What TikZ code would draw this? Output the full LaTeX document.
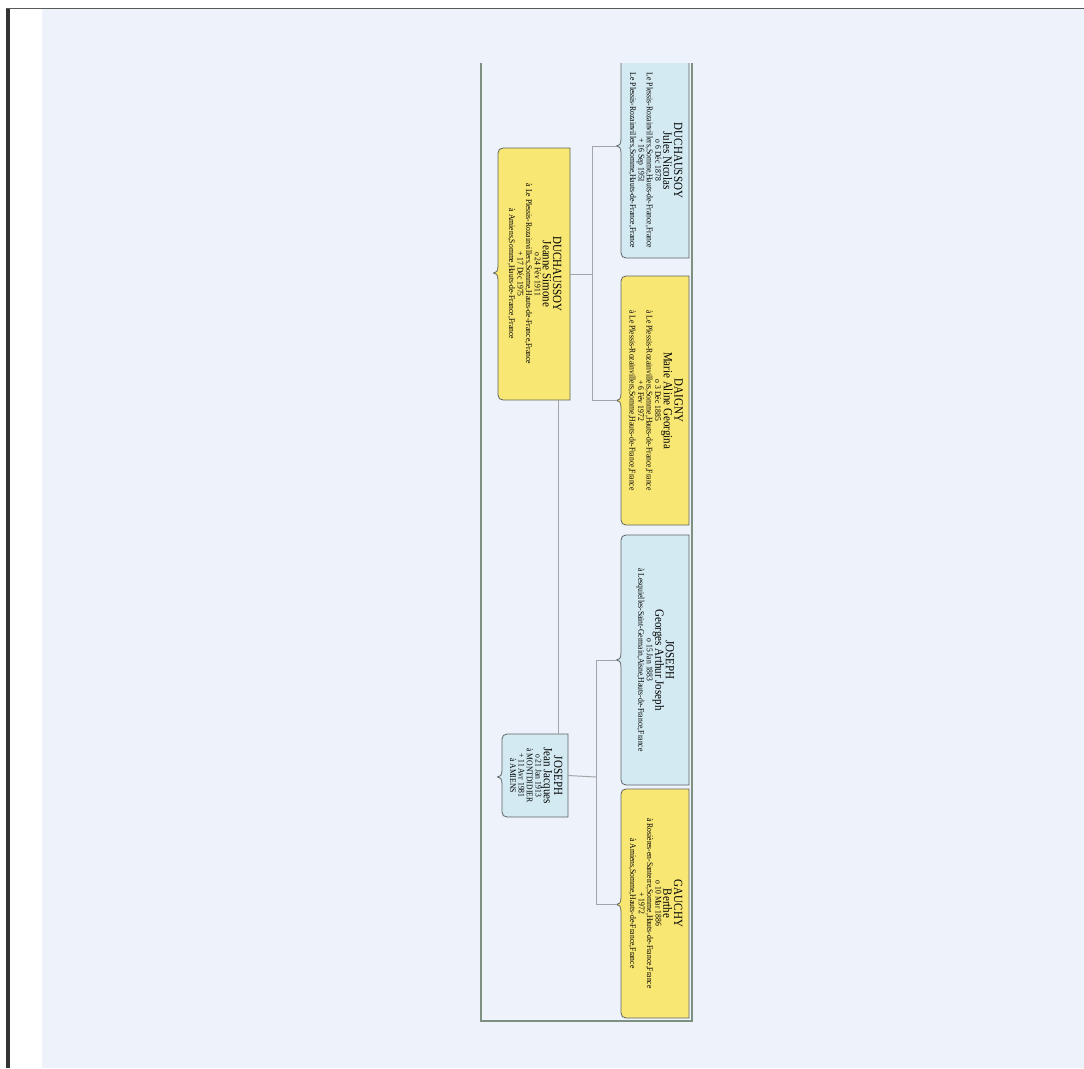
\documentclass[tikz,border=0pt]{standalone}
\usepackage{fontspec}
\setmainfont{Liberation Serif}[FakeStretch=0.88]
\usetikzlibrary{calc,backgrounds}
\definecolor{pagebg}{HTML}{EEF3FB}
\definecolor{bluefill}{HTML}{D3EAF2}
\definecolor{yellowfill}{HTML}{F9E774}
\definecolor{boxedge}{HTML}{5E6463}
\definecolor{linkgrey}{HTML}{A3A6A8}
\definecolor{framegreen}{HTML}{7D9082}
\newcommand\namefont{\fontsize{12.5}{12.5}\selectfont}
\newcommand\detfont{\fontsize{8.7}{8.7}\selectfont}
\newcommand\NM[1]{\namefont\rule[-2pt]{0pt}{8.5pt}#1}
\newcommand\DT[1]{\detfont\rule[-2.5pt]{0pt}{7.5pt}#1}
\newcommand\ptxt[1]{\rotatebox{-90}{\renewcommand\arraystretch{0}\begin{tabular}{@{}c@{}}#1\end{tabular}}}
\tikzset{
  pnode/.style={inner sep=0pt, outer sep=0pt, draw=none},
  boxline/.style={draw=boxedge, line width=0.8pt},
  link/.style={draw=linkgrey, line width=1pt},
  frameline/.style={draw=framegreen, line width=1.4pt},
}
\newcommand\pbox[3]{%
\begin{pgfonlayer}{background}
\path[boxline,fill=#2] (#1.north east) -- ($(#1.north west)+(5,0)$) .. controls ($(#1.north west)+(2,0)$) and ($(#1.north west)+(0,2)$) .. ($(#1.north west)+(0,5)$)
 -- ($(#1.west)+(0,#3-7)$) .. controls ($(#1.west)+(0,#3-1.5)$) and ($(#1.west)+(-2,#3)$) .. ($(#1.west)+(-4.5,#3)$)
 .. controls ($(#1.west)+(-2,#3)$) and ($(#1.west)+(0,#3+1.5)$) .. ($(#1.west)+(0,#3+7)$)
 -- ($(#1.south west)+(0,-5)$) .. controls ($(#1.south west)+(0,-2)$) and ($(#1.south west)+(2,0)$) .. ($(#1.south west)+(5,0)$)
 -- (#1.south east) -- cycle;
\end{pgfonlayer}
\coordinate (#1-tip) at ($(#1.west)+(-4.5,#3)$);}
\newcommand\pboxopen[3]{%
\begin{pgfonlayer}{background}
\path[boxline,fill=#2] (#1.north west)
 -- ($(#1.west)+(0,#3-7)$) .. controls ($(#1.west)+(0,#3-1.5)$) and ($(#1.west)+(-2,#3)$) .. ($(#1.west)+(-4.5,#3)$)
 .. controls ($(#1.west)+(-2,#3)$) and ($(#1.west)+(0,#3+1.5)$) .. ($(#1.west)+(0,#3+7)$)
 -- ($(#1.south west)+(0,-5)$) .. controls ($(#1.south west)+(0,-2)$) and ($(#1.south west)+(2,0)$) .. ($(#1.south west)+(5,0)$)
 -- (#1.south east) -- (#1.north east);
\end{pgfonlayer}
\coordinate (#1-tip) at ($(#1.west)+(-4.5,#3)$);}
\begin{document}
\begin{tikzpicture}[x=1pt,y=-1pt]
\useasboundingbox (0,0) rectangle (1084,1068);
\begin{pgfonlayer}{background}
\fill[white] (0,0) rectangle (1084,1068);
\fill[pagebg] (42,9) rectangle (1084,1068);
\fill[black!80] (6,8) rectangle (10,1068);
\draw[black!65, line width=1.2pt] (6,8.5) -- (1084,8.5);
\end{pgfonlayer}
% frame
\draw[frameline] (481,63) -- (481,1021) -- (692,1021) -- (692,63);
% persons
\node[pnode, minimum width=68pt, minimum height=195pt] (jules) at (655,160.5)
 {\ptxt{\NM{DUCHAUSSOY}\\ \NM{Jules Nicolas}\\ \DT{o 6 Déc 1878}\\ \DT{Le Plessis-Rozainvillers,Somme,Hauts-de-France,France}\\ \DT{+ 16 Sep 1951}\\ \DT{Le Plessis-Rozainvillers,Somme,Hauts-de-France,France}}};
\pboxopen{jules}{bluefill}{-14.5}
\node[pnode, minimum width=68pt, minimum height=249pt] (daigny) at (655,400.5)
 {\ptxt{\NM{DAIGNY}\\ \NM{Marie Aline Georgina}\\ \DT{o 3 Déc 1885}\\ \DT{à Le Plessis-Rozainvillers,Somme,Hauts-de-France,France}\\ \DT{+ 6 Fév 1972}\\ \DT{à Le Plessis-Rozainvillers,Somme,Hauts-de-France,France}}};
\pbox{daigny}{yellowfill}{0}
\node[pnode, minimum width=68pt, minimum height=250pt] (georges) at (655,660)
 {\ptxt{\NM{JOSEPH}\\ \NM{Georges Arthur Joseph}\\ \DT{o 15 Jan 1883}\\ \DT{à Lesquielles-Saint-Germain,Aisne,Hauts-de-France,France}}};
\pbox{georges}{bluefill}{0}
\node[pnode, minimum width=68pt, minimum height=229pt] (berthe) at (655,903.5)
 {\ptxt{\NM{GAUCHY}\\ \NM{Berthe}\\ \DT{o 10 Mar 1886}\\ \DT{à Rosières-en-Santerre,Somme,Hauts-de-France,France}\\ \DT{+ 1972}\\ \DT{à Amiens,Somme,Hauts-de-France,France}}};
\pbox{berthe}{yellowfill}{1}
\node[pnode, minimum width=72pt, minimum height=252pt] (jeanne) at (534,274)
 {\ptxt{\NM{DUCHAUSSOY}\\ \NM{Jeanne Simone}\\ \DT{o 24 Fév 1911}\\ \DT{à Le Plessis-Rozainvillers,Somme,Hauts-de-France,France}\\ \DT{+ 17 Déc 1975}\\ \DT{à Amiens,Somme,Hauts-de-France,France}}};
\pbox{jeanne}{yellowfill}{-1}
\node[pnode, minimum width=66pt, minimum height=83pt] (jeanjacques) at (535,775.5)
 {\ptxt{\NM{JOSEPH}\\ \NM{Jean Jacques}\\ \DT{o 21 Jan 1913}\\ \DT{à MONTDIDIER}\\ \DT{+ 11 Avr 1981}\\ \DT{à AMIENS}}};
\pbox{jeanjacques}{bluefill}{1.5}
% connectors
\coordinate (forkA) at (592,274);
\coordinate (forkB) at (596,777);
\coordinate (mline) at (558,0);
\draw[link] (jeanne.east) -- (forkA);
\draw[link] (jules-tip) -| (forkA);
\draw[link] (daigny-tip) -| (forkA);
\draw[link] (jeanjacques.east) -- (forkB);
\draw[link] (georges-tip) -| (forkB);
\draw[link] (berthe-tip) -| (forkB);
\draw[link] (jeanne.south -| mline) -- (jeanjacques.north -| mline);
\end{tikzpicture}
\end{document}
